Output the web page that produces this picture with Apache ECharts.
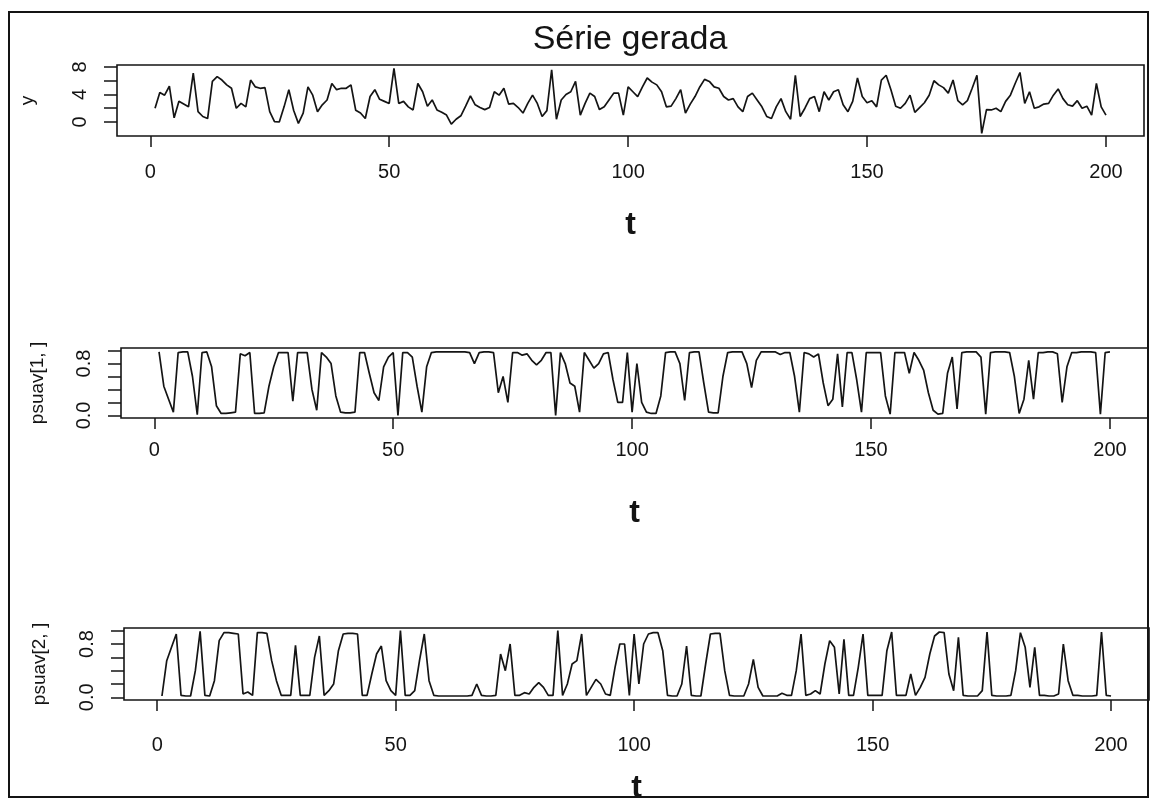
<!DOCTYPE html>
<html>
<head>
<meta charset="utf-8">
<script src="https://cdn.jsdelivr.net/npm/echarts@6/dist/echarts.min.js"></script>
<style>
html, body { margin: 0; padding: 0; background: #fff; }
#chart { width: 1150px; height: 800px; }
</style>
</head>
<body>
<div id="chart"></div>
<script>
// Generated series y(t), t = 1..200
const ySerie = [
  2.0, 4.3, 3.9, 5.2, 0.6, 3.0, 2.6, 2.2, 7.1, 1.5,
  0.8, 0.5, 5.9, 6.6, 6.1, 5.4, 4.9, 2.0, 2.7, 2.2,
  6.1, 5.1, 4.9, 5.0, 1.5, 0.05, 0.0, 2.2, 4.7, 1.7,
  -0.2, 1.3, 5.1, 3.9, 1.5, 2.5, 3.2, 5.6, 4.7, 4.9,
  4.9, 5.4, 1.7, 1.3, 0.5, 3.7, 4.7, 3.3, 3.0, 2.7,
  7.8, 2.7, 3.0, 2.2, 1.75, 5.6, 4.4, 2.3, 3.2, 1.75,
  1.4, 1.0, -0.3, 0.4, 0.9, 2.3, 3.8, 2.5, 2.1, 1.8,
  2.1, 4.4, 3.9, 4.9, 2.6, 2.7, 2.1, 1.3, 2.7, 3.9,
  2.7, 0.8, 1.65, 7.6, 0.4, 3.2, 4.0, 4.4, 5.9, 1.0,
  2.7, 4.2, 3.7, 1.8, 2.2, 3.2, 4.2, 4.2, 1.0, 5.1,
  4.4, 3.7, 5.1, 6.4, 5.8, 5.4, 4.4, 2.2, 2.3, 3.4,
  4.7, 1.3, 2.6, 3.7, 5.1, 6.2, 5.9, 5.1, 4.9, 3.7,
  3.2, 3.4, 2.2, 1.5, 3.7, 4.2, 3.2, 2.2, 0.8, 0.5,
  2.2, 3.4, 1.5, 0.4, 6.8, 0.8, 2.0, 3.4, 3.7, 1.5,
  4.4, 3.2, 4.4, 4.7, 2.5, 1.5, 3.0, 6.4, 3.7, 2.8,
  3.1, 2.2, 6.1, 6.8, 4.7, 2.3, 2.0, 2.7, 3.9, 1.4,
  2.1, 2.8, 3.9, 6.0, 5.4, 5.0, 4.2, 6.1, 3.1, 2.5,
  3.1, 4.9, 6.8, -1.65, 1.8, 1.75, 2.0, 1.5, 3.0, 3.9,
  5.6, 7.2, 2.7, 4.4, 2.0, 2.2, 2.6, 2.7, 3.9, 4.8,
  3.4, 2.5, 2.3, 3.1, 2.0, 2.3, 1.0, 5.6, 2.2, 1.0
];

// Smoothed probability of regime 1
const psuav1 = [
  0.98, 0.45, 0.25, 0.05, 0.97, 0.98, 0.98, 0.60, 0.01, 0.97,
  0.98, 0.75, 0.15, 0.03, 0.03, 0.04, 0.05, 0.95, 0.92, 0.97,
  0.03, 0.03, 0.04, 0.45, 0.75, 0.97, 0.97, 0.97, 0.22, 0.97,
  0.97, 0.97, 0.40, 0.08, 0.97, 0.90, 0.80, 0.30, 0.05, 0.04,
  0.04, 0.05, 0.97, 0.97, 0.65, 0.35, 0.23, 0.75, 0.90, 0.97,
  0.00, 0.97, 0.97, 0.90, 0.45, 0.05, 0.75, 0.97, 0.98, 0.98,
  0.98, 0.98, 0.98, 0.98, 0.98, 0.97, 0.80, 0.97, 0.98, 0.98,
  0.97, 0.35, 0.60, 0.20, 0.97, 0.97, 0.93, 0.95, 0.85, 0.78,
  0.85, 0.97, 0.97, 0.00, 0.97, 0.80, 0.50, 0.45, 0.05, 0.97,
  0.85, 0.73, 0.80, 0.95, 0.97, 0.55, 0.20, 0.20, 0.97, 0.05,
  0.80, 0.20, 0.05, 0.03, 0.03, 0.30, 0.97, 0.98, 0.98, 0.80,
  0.23, 0.97, 0.98, 0.98, 0.50, 0.05, 0.04, 0.04, 0.60, 0.97,
  0.98, 0.98, 0.98, 0.80, 0.43, 0.85, 0.98, 0.98, 0.98, 0.98,
  0.94, 0.97, 0.97, 0.60, 0.05, 0.97, 0.95, 0.90, 0.95, 0.50,
  0.15, 0.25, 0.95, 0.13, 0.97, 0.97, 0.55, 0.05, 0.97, 0.97,
  0.97, 0.97, 0.30, 0.02, 0.97, 0.97, 0.97, 0.65, 0.97, 0.85,
  0.70, 0.35, 0.08, 0.02, 0.03, 0.65, 0.90, 0.10, 0.97, 0.98,
  0.98, 0.98, 0.90, 0.02, 0.97, 0.98, 0.98, 0.98, 0.97, 0.60,
  0.03, 0.25, 0.85, 0.25, 0.97, 0.97, 0.98, 0.98, 0.95, 0.20,
  0.75, 0.97, 0.97, 0.98, 0.98, 0.98, 0.97, 0.02, 0.97, 0.98
];

// Smoothed probability of regime 2
const psuav2 = [
  0.02, 0.55, 0.75, 0.95, 0.03, 0.02, 0.02, 0.40, 0.99, 0.03,
  0.02, 0.25, 0.85, 0.97, 0.97, 0.96, 0.95, 0.05, 0.08, 0.03,
  0.97, 0.97, 0.96, 0.55, 0.25, 0.03, 0.03, 0.03, 0.78, 0.03,
  0.03, 0.03, 0.60, 0.92, 0.03, 0.10, 0.20, 0.70, 0.95, 0.96,
  0.96, 0.95, 0.03, 0.03, 0.35, 0.65, 0.77, 0.25, 0.10, 0.03,
  1.00, 0.03, 0.03, 0.10, 0.55, 0.95, 0.25, 0.03, 0.02, 0.02,
  0.02, 0.02, 0.02, 0.02, 0.02, 0.03, 0.20, 0.03, 0.02, 0.02,
  0.03, 0.65, 0.40, 0.80, 0.03, 0.03, 0.07, 0.05, 0.15, 0.22,
  0.15, 0.03, 0.03, 1.00, 0.03, 0.20, 0.50, 0.55, 0.95, 0.03,
  0.15, 0.27, 0.20, 0.05, 0.03, 0.45, 0.80, 0.80, 0.03, 0.95,
  0.20, 0.80, 0.95, 0.97, 0.97, 0.70, 0.03, 0.02, 0.02, 0.20,
  0.77, 0.03, 0.02, 0.02, 0.50, 0.95, 0.96, 0.96, 0.40, 0.03,
  0.02, 0.02, 0.02, 0.20, 0.57, 0.15, 0.02, 0.02, 0.02, 0.02,
  0.06, 0.03, 0.03, 0.40, 0.95, 0.03, 0.05, 0.10, 0.05, 0.50,
  0.85, 0.75, 0.05, 0.87, 0.03, 0.03, 0.45, 0.95, 0.03, 0.03,
  0.03, 0.03, 0.70, 0.98, 0.03, 0.03, 0.03, 0.35, 0.03, 0.15,
  0.30, 0.65, 0.92, 0.98, 0.97, 0.35, 0.10, 0.90, 0.03, 0.02,
  0.02, 0.02, 0.10, 0.98, 0.03, 0.02, 0.02, 0.02, 0.03, 0.40,
  0.97, 0.75, 0.15, 0.75, 0.03, 0.03, 0.02, 0.02, 0.05, 0.80,
  0.25, 0.03, 0.03, 0.02, 0.02, 0.02, 0.03, 0.98, 0.03, 0.02
];

// Axis ticks and labels
const tTicks = [0, 50, 100, 150, 200];
const yTicks = [0, 2, 4, 6, 8];
const yLabels = [0, 4, 8];
const pTicks = [0, 0.2, 0.4, 0.6, 0.8, 1.0];
const pLabels = [0, 0.8];

const INK = '#141414';
const FONT = '"Liberation Sans", Arial, sans-serif';

// pair each value with its time index t = 1..n
function withTime(values) {
  return values.map((v, i) => [i + 1, v]);
}

const panels = [
  { grid: { left: 117, top: 65, width: 1027, height: 71 }, ymin: -2.04, ymax: 8.29,
    yTicks: yTicks, yLabels: yLabels, fmt: v => String(v), name: 'y', nameGap: 80,
    labelMargin: 26, tGap: 73, data: ySerie },
  { grid: { left: 121, top: 348, width: 1027, height: 70 }, ymin: -0.04, ymax: 1.04,
    yTicks: pTicks, yLabels: pLabels, fmt: v => v.toFixed(1), name: 'psuav[1, ]', nameGap: 74,
    labelMargin: 22, tGap: 79, data: psuav1 },
  { grid: { left: 124, top: 628, width: 1025, height: 72 }, ymin: -0.04, ymax: 1.04,
    yTicks: pTicks, yLabels: pLabels, fmt: v => v.toFixed(1), name: 'psuav[2, ]', nameGap: 75,
    labelMargin: 35, tGap: 72, data: psuav2 }
];

const option = {
  animation: false,
  backgroundColor: '#fff',
  textStyle: { fontFamily: FONT, color: INK },
  grid: panels.map(p => Object.assign({ show: true, borderColor: INK, borderWidth: 1.6,
    backgroundColor: 'transparent', containLabel: false, outerBoundsMode: 'none' }, p.grid)),
  xAxis: panels.map((p, i) => ({
    type: 'value', gridIndex: i, min: -6.96, max: 207.96, position: 'bottom',
    name: 't', nameLocation: 'middle', nameGap: p.tGap,
    nameTextStyle: { fontSize: 32, fontWeight: 'bold', color: INK, fontFamily: FONT },
    axisLine: { show: false, onZero: false },
    splitLine: { show: false },
    axisTick: { show: true, inside: false, length: 11, customValues: tTicks,
      lineStyle: { color: INK, width: 1.5 } },
    axisLabel: { show: true, customValues: tTicks, margin: p.labelMargin, fontSize: 20,
      color: INK, fontFamily: FONT }
  })),
  yAxis: panels.map((p, i) => ({
    type: 'value', gridIndex: i, min: p.ymin, max: p.ymax, position: 'left',
    name: p.name, nameLocation: 'middle', nameRotate: 90, nameGap: p.nameGap,
    nameTextStyle: { fontSize: 19, color: INK, fontFamily: FONT },
    axisLine: { show: false, onZero: false },
    splitLine: { show: false },
    axisTick: { show: true, inside: false, length: 13, customValues: p.yTicks,
      lineStyle: { color: INK, width: 1.5 } },
    axisLabel: { show: true, customValues: p.yLabels, rotate: 90, margin: 27, fontSize: 20,
      color: INK, fontFamily: FONT, formatter: p.fmt }
  })),
  series: panels.map((p, i) => ({
    type: 'line', xAxisIndex: i, yAxisIndex: i,
    data: withTime(p.data),
    showSymbol: false, symbol: 'none',
    lineStyle: { color: INK, width: 1.7 },
    silent: true
  })),
  graphic: [
    { type: 'rect', shape: { x: 9, y: 12, width: 1139, height: 785 },
      style: { fill: 'none', stroke: INK, lineWidth: 2 }, silent: true },
    { type: 'text', x: 630, y: 40,
      style: { text: 'Série gerada', fontSize: 34, fontWeight: 'normal', fontFamily: FONT,
        fill: INK, align: 'center', verticalAlign: 'middle' } }
  ]
};

const chart = echarts.init(document.getElementById('chart'), null, { renderer: 'canvas' });
chart.setOption(option);
</script>
</body>
</html>
